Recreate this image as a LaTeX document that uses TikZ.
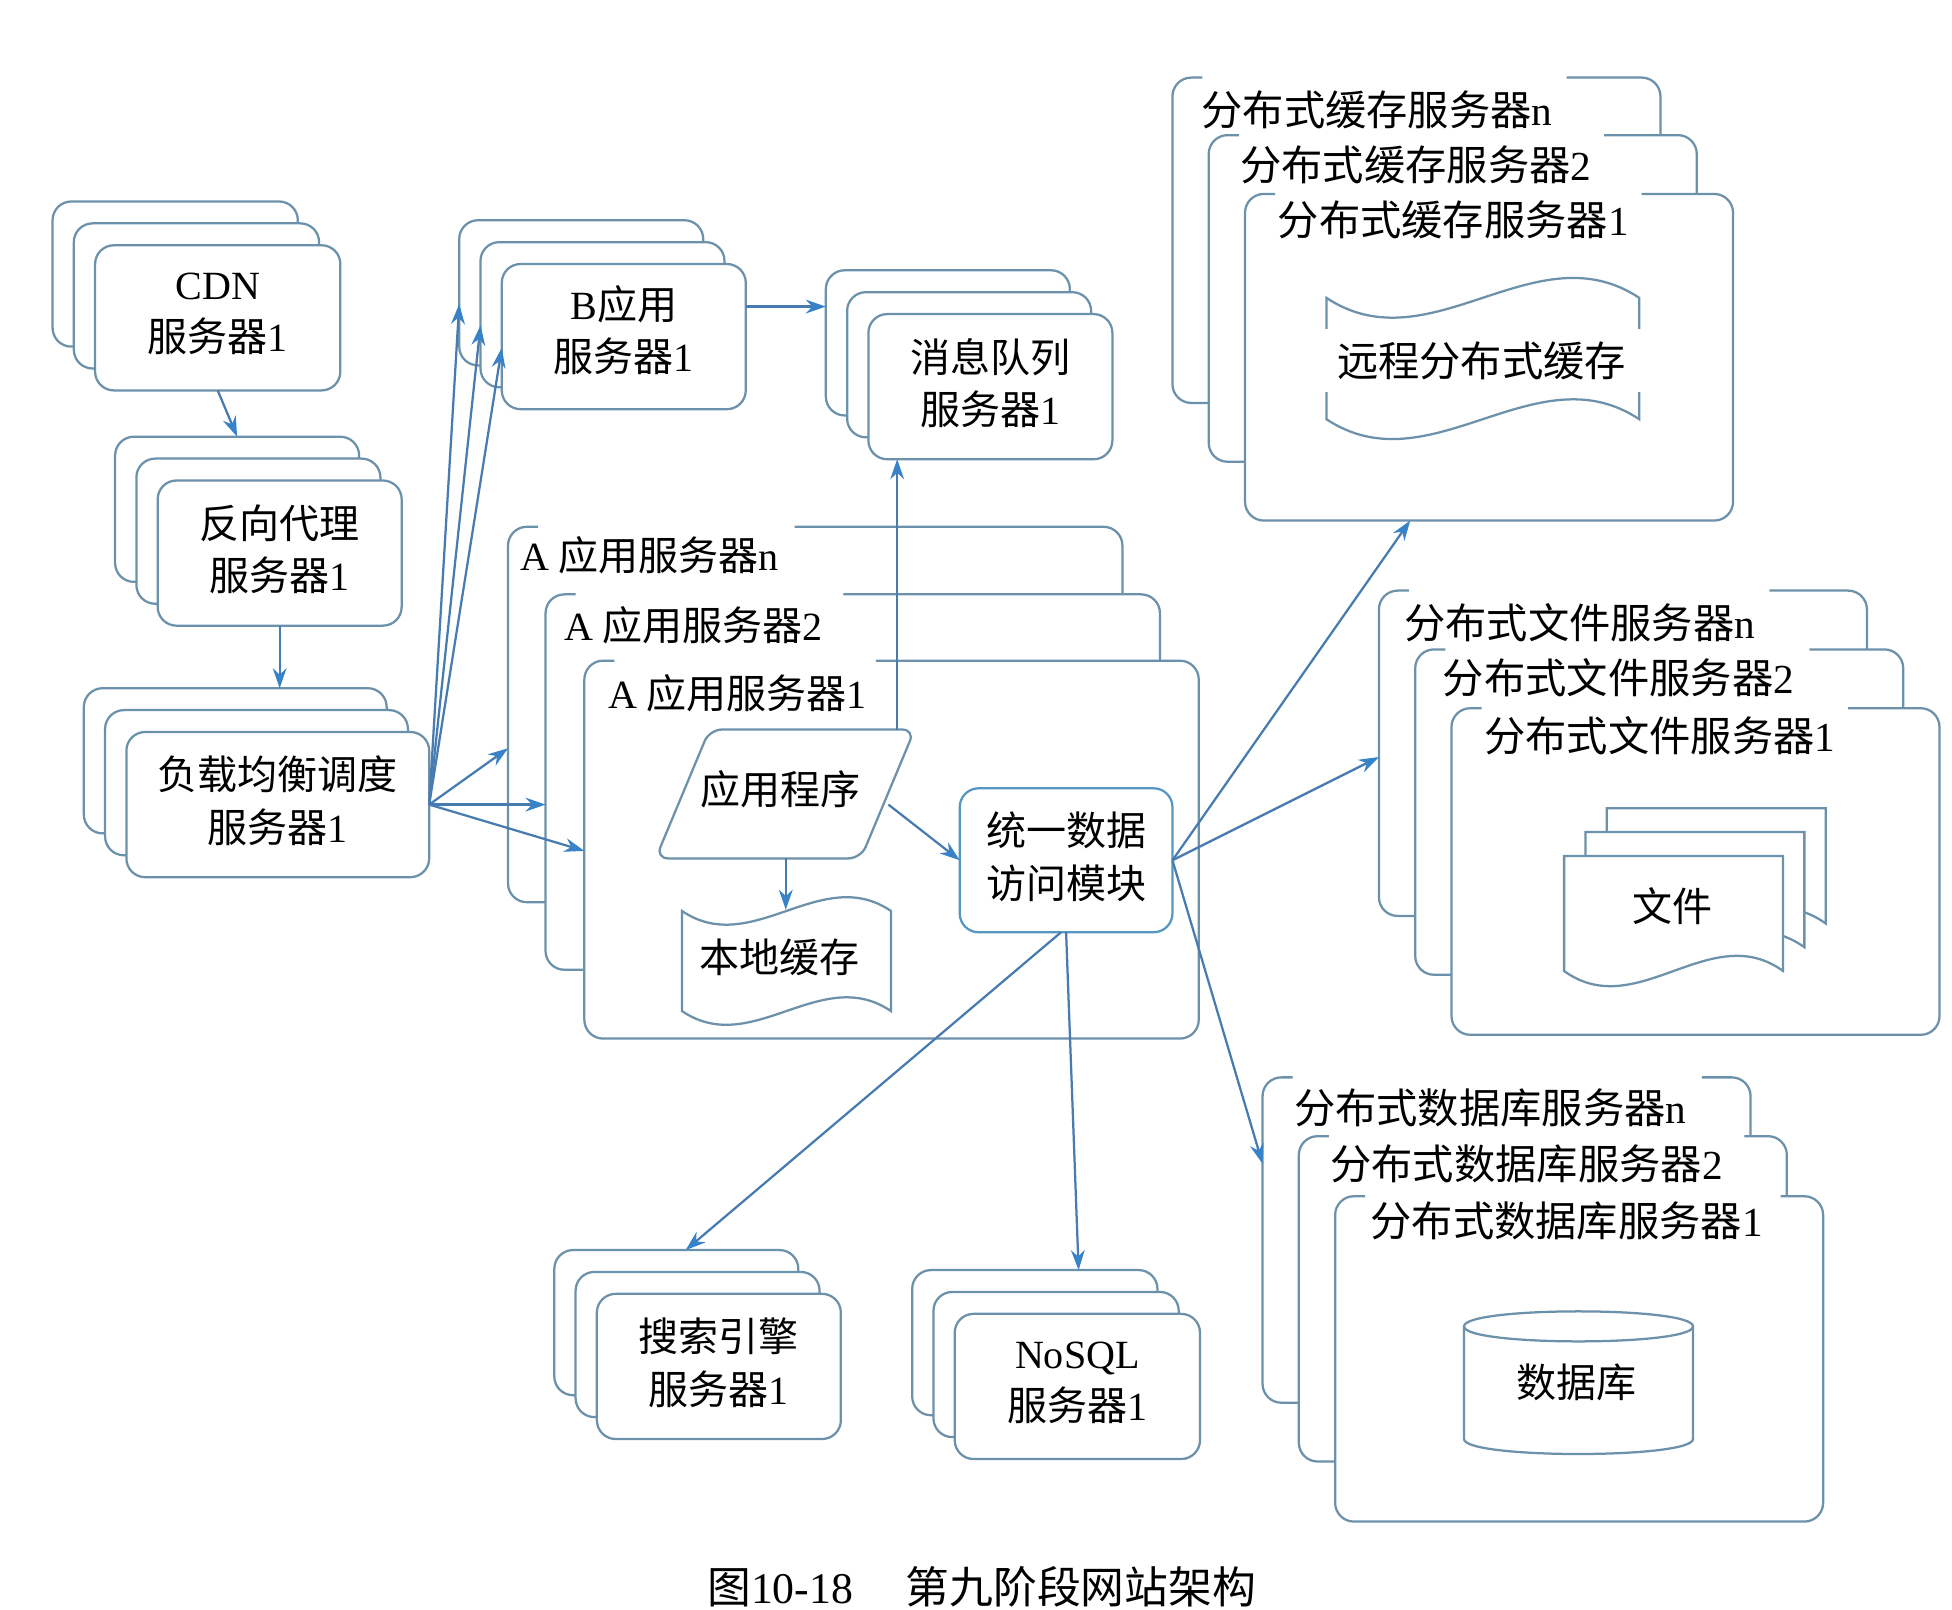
\documentclass[tikz,border=0pt]{standalone}
\usepackage{fontspec}
\setmainfont{Noto Sans CJK SC}
\newfontfamily\latf{Liberation Serif}
\newcommand{\la}[1]{{\latf #1}}
\usetikzlibrary{arrows.meta}
\definecolor{boxc}{RGB}{108,145,170}
\definecolor{arrc}{RGB}{72,124,176}
\definecolor{headc}{RGB}{55,130,200}
\definecolor{udac}{RGB}{85,150,195}
\tikzset{
  sbox/.style={draw=boxc, fill=white, line width=1.8pt, rounded corners=15pt, inner sep=0pt, outer sep=0pt},
  cbox/.style={fill=white, rounded corners=15pt, inner sep=0pt, outer sep=0pt},
  cline/.style={draw=boxc, line width=1.8pt, rounded corners=15pt},
  sline/.style={draw=boxc, line width=1.8pt},
  txt/.style={font=\fontsize{32}{42}\selectfont, align=center, inner sep=0pt, yshift=3pt},
  ttla/.style={font=\fontsize{32}{40}\selectfont, anchor=west, inner sep=0pt, yshift=2pt},
  ttl/.style={font=\fontsize{33}{40}\selectfont, anchor=west, inner sep=0pt, yshift=2pt},
  arr/.style={draw=arrc, line width=1.8pt, -{Stealth[length=16pt,width=11pt,color=headc]}},
}
\newcommand{\stk}[5]{%
  \node[sbox, minimum width=#4, minimum height=#5, anchor=north west] (#13) at (#2,#3) {};
  \node[sbox, minimum width=#4, minimum height=#5, anchor=north west] (#12) at (#2+17,#3+17.5) {};
  \node[sbox, minimum width=#4, minimum height=#5, anchor=north west] (#11) at (#2+34,#3+35) {};
}
\newcommand{\cont}[6]{%
  \node[cbox, minimum width=#4, minimum height=#5, anchor=north west] (#1) at (#2,#3) {};
  \draw[cline] ([xshift=24pt]#1.north west) -- (#1.north west) -- (#1.south west) -- (#1.south east) -- (#1.north east) -- (#6,#3);
}
\begin{document}
\begin{tikzpicture}[x=1pt,y=-1pt]
\fill[white] (0,0) rectangle (1560,1286);
\useasboundingbox (0,0) rectangle (1560,1286);

% small stacks
\stk{cdn}{42}{161}{196}{116}
\stk{prx}{92}{349}{195}{116}
\stk{lb}{67}{550}{242}{116}
\stk{bb}{367}{176}{195}{116}
\stk{mq}{660}{216}{195}{116}
\stk{se}{443}{999}{195}{116}
\stk{ns}{729}{1015}{196}{116}

\node[txt] (cdnT) at (cdn1) {\la{CDN}\\服务器\la{1}};
\node[txt] (prxT) at (prx1) {反向代理\\服务器\la{1}};
\node[txt] (lbT) at (lb1) {负载均衡调度\\服务器\la{1}};
\node[txt, yshift=2pt] (bbT) at (bb1) {\la{B}应用\\服务器\la{1}};
\node[txt] (mqT) at (mq1) {消息队列\\服务器\la{1}};
\node[txt] (seT) at (se1) {搜索引擎\\服务器\la{1}};
\node[txt] (nsT) at (ns1) {\la{NoSQL}\\服务器\la{1}};

% A application servers
\cont{an}{406}{421}{491}{300}{635}
\node[ttla] (anT) at (416,446) {\la{A} 应用服务器\la{n}};
\cont{a2}{436}{475}{491}{300}{674}
\node[ttla] (a2T) at (451,502) {\la{A} 应用服务器\la{2}};
\cont{a1}{467}{528}{491}{302}{700}
\node[ttla] (a1T) at (486,556) {\la{A} 应用服务器\la{1}};

\draw[sline, fill=white, rounded corners=10pt] (649,583) -- (731,583) -- (688,686) -- (524,686) -- (567,583) -- cycle;
\node[txt] (appT) at (624,634) {应用程序};
\draw[sline, fill=white] (545,728) .. controls (601,766) and (656,690) .. (712,728) -- (712,808) .. controls (656,770) and (601,846) .. (545,808) -- cycle;
\node[txt] (lcT) at (623,768) {本地缓存};
\node[sbox, draw=udac, minimum width=170, minimum height=115, anchor=north west, rounded corners=15pt] (uda) at (767,630) {};
\node[txt] (udaT) at (uda) {统一数据\\访问模块};

% distributed cache
\cont{cn}{937}{62}{390}{260}{1252}
\node[ttl] (cnT) at (960,90) {分布式缓存服务器\la{n}};
\cont{c2}{966}{108}{390}{261}{1282}
\node[ttl] (c2T) at (991,134) {分布式缓存服务器\la{2}};
\cont{c1}{995}{155}{390}{261}{1312}
\node[ttl] (c1T) at (1021,178) {分布式缓存服务器\la{1}};
\draw[sline, fill=white] (1060,238) .. controls (1143,293) and (1227,183) .. (1310,238) -- (1310,335) .. controls (1227,280) and (1143,390) .. (1060,335) -- cycle;
\node[fill=white, inner xsep=12pt, inner ysep=10pt, yshift=2pt, font=\fontsize{33}{40}\selectfont] (rcT) at (1184,290) {远程分布式缓存};

% distributed files
\cont{fn}{1102}{472}{390}{260}{1414}
\node[ttl] (fnT) at (1122,500) {分布式文件服务器\la{n}};
\cont{f2}{1131}{519}{390}{260}{1446}
\node[ttl] (f2T) at (1153,544) {分布式文件服务器\la{2}};
\cont{f1}{1160}{566}{390}{261}{1477}
\node[ttl] (f1T) at (1186,590) {分布式文件服务器\la{1}};
\foreach \L/\T in {1284/646,1267/665,1250/684}
  \draw[sline, fill=white] (\L,\T) -- (\L+175,\T) -- (\L+175,\T+92) .. controls (\L+117,\T+50) and (\L+58,\T+134) .. (\L,\T+92) -- cycle;
\node[txt] (fileT) at (1337,727) {文件};

% distributed database
\cont{dn}{1009}{861}{390}{260}{1360}
\node[ttl] (dnT) at (1034,887) {分布式数据库服务器\la{n}};
\cont{d2}{1038}{908}{390}{260}{1394}
\node[ttl] (d2T) at (1063,932) {分布式数据库服务器\la{2}};
\cont{d1}{1067}{956}{390}{260}{1423}
\node[ttl] (d1T) at (1095,978) {分布式数据库服务器\la{1}};
\draw[sline, fill=white] (1170,1060) -- (1170,1150) .. controls (1170,1166) and (1353,1166) .. (1353,1150) -- (1353,1060) .. controls (1353,1044) and (1170,1044) .. (1170,1060) -- cycle;
\draw[sline] (1170,1060) .. controls (1170,1076) and (1353,1076) .. (1353,1060);
\node[txt] (dbT) at (1260,1108) {数据库};

% connectors
\coordinate (eB3) at (367,243);
\coordinate (eB2) at (384,260);
\coordinate (eB1) at (401,278);
\coordinate (eAn) at (406,598);
\coordinate (eA2) at (436,643);
\coordinate (eA1) at (467,680);
\draw[arr] (cdn1.south) -- (prx3.north);
\draw[arr] (prx1.south) -- (prx1.south |- lb3.north);
\foreach \e in {eB3,eB2,eB1,eAn,eA2,eA1} \draw[arr] (lb1.east) -- (\e);
\coordinate (sBM) at (596,245);
\coordinate (eBM) at (660,245);
\draw[arr] (sBM) -- (eBM);
\coordinate (sAM) at (717,583);
\draw[arr] (sAM) -- (sAM |- mq1.south);
\coordinate (sAL) at (628,686);
\coordinate (eAL) at (628,727);
\draw[arr] (sAL) -- (eAL);
\coordinate (sAU) at (710,643);
\draw[arr] (sAU) -- (uda.west);
\coordinate (eC) at (1127,416);
\coordinate (eF) at (1102,605);
\coordinate (eD) at (1009,930);
\draw[arr] (uda.east) -- (eC);
\draw[arr] (uda.east) -- (eF);
\draw[arr] (uda.east) -- (eD);
\coordinate (eS) at (548,999);
\coordinate (eN) at (862,1015);
\draw[arr] ([xshift=-4pt]uda.south) -- (eS);
\draw[arr] (uda.south) -- (eN);

\node[anchor=west, inner sep=0pt, font=\fontsize{35}{40}\selectfont] (cap) at (565,1268) {图\la{10-18}\hspace{1.2em}第九阶段网站架构};
\end{tikzpicture}
\end{document}
